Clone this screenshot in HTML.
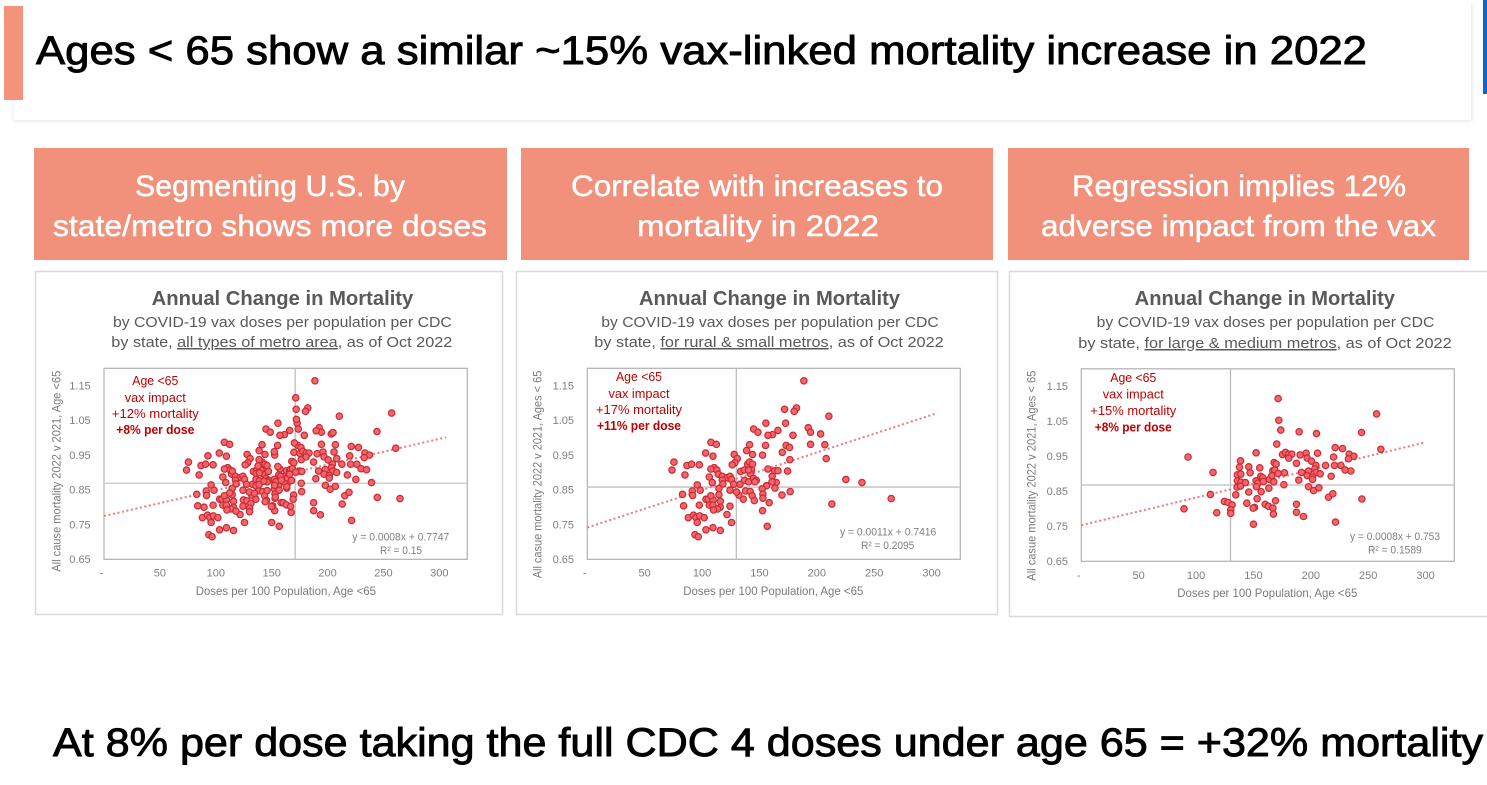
<!DOCTYPE html>
<html lang="en">
<head>
<meta charset="utf-8">
<title>Ages under 65 mortality slide</title>
<style>
html,body{margin:0;padding:0;background:#fff;width:1487px;height:785px;overflow:hidden}
svg{display:block;font-family:"Liberation Sans",sans-serif}
.banner{fill:#f1917b}
.banner-text{fill:#fff;font-size:30px;stroke:#fff;stroke-width:.45px}
.headline{fill:#000;font-size:40px;stroke:#000;stroke-width:.9px}
.panel{fill:#fff;stroke:#d9d9d9;stroke-width:1.5px}
.chart{filter:blur(.35px)}
.title{fill:#595959;font-size:20px;font-weight:bold}
.sub{fill:#595959;font-size:15px}
.axis-title{fill:#7a7a7a;font-size:12px}
.tick{fill:#7f7f7f;font-size:11px}
.note{fill:#c00000;font-size:12.5px}
.note-b{fill:#c00000;font-size:12.5px;font-weight:bold}
.eq{fill:#7f7f7f;font-size:11px}
</style>
</head>
<body>
<svg id="slide" width="1487" height="785" viewBox="0 0 1487 785" xmlns="http://www.w3.org/2000/svg">
  <defs>
    <filter id="soft" x="-2%" y="-10%" width="104%" height="120%"><feGaussianBlur stdDeviation="2"/></filter>
  </defs>
  <rect x="14" y="4" width="1458" height="117" fill="#e4e4e4" filter="url(#soft)"/>
  <rect x="14" y="0" width="1457" height="120" fill="#fff"/>
  <rect x="4" y="6" width="19" height="94" fill="#f4937b"/>
  <rect x="1483" y="0" width="4" height="94" fill="#0b66d0"/>
  <text class="headline" x="36" y="64" textLength="1331" lengthAdjust="spacingAndGlyphs">Ages &lt; 65 show a similar ~15% vax-linked mortality increase in 2022</text>

  <g>
    <rect class="banner" x="34" y="148" width="473" height="112"/>
    <text class="banner-text" x="135" y="196" textLength="270" lengthAdjust="spacingAndGlyphs">Segmenting U.S. by</text>
    <text class="banner-text" x="53" y="236" textLength="434" lengthAdjust="spacingAndGlyphs">state/metro shows more doses</text>
  </g>
  <g>
    <rect class="banner" x="521" y="148" width="472" height="112"/>
    <text class="banner-text" x="571" y="196" textLength="372" lengthAdjust="spacingAndGlyphs">Correlate with increases to</text>
    <text class="banner-text" x="637" y="236" textLength="242" lengthAdjust="spacingAndGlyphs">mortality in 2022</text>
  </g>
  <g>
    <rect class="banner" x="1008" y="148" width="461" height="112"/>
    <text class="banner-text" x="1072" y="196" textLength="334" lengthAdjust="spacingAndGlyphs">Regression implies 12%</text>
    <text class="banner-text" x="1041" y="236" textLength="395" lengthAdjust="spacingAndGlyphs">adverse impact from the vax</text>
  </g>

  <rect class="panel" x="35.5" y="271.5" width="467" height="343"/>
  <rect class="panel" x="516.5" y="271.5" width="481" height="343"/>
  <rect class="panel" x="1009.5" y="271.5" width="480" height="345"/>

  <g id="chart-all" class="chart">
    <text class="title" x="151.7" y="305" textLength="261.6" lengthAdjust="spacingAndGlyphs">Annual Change in Mortality</text>
    <text class="sub" x="113" y="327" textLength="338.7" lengthAdjust="spacingAndGlyphs">by COVID-19 vax doses per population per CDC</text>
    <text class="sub" x="111.3" y="347" textLength="341" lengthAdjust="spacingAndGlyphs">by state, <tspan text-decoration="underline">all types of metro area</tspan>, as of Oct 2022</text>
    <text class="axis-title" x="195.7" y="595" textLength="180.3" lengthAdjust="spacingAndGlyphs">Doses per 100 Population, Age &lt;65</text>
    <text class="axis-title" transform="translate(60.5,571.7) rotate(-90)" textLength="201" lengthAdjust="spacingAndGlyphs">All cause mortality 2022 v 2021, Age &lt;65</text>
    <text class="note" x="155.3" y="385" text-anchor="middle" textLength="46" lengthAdjust="spacingAndGlyphs">Age &lt;65</text>
    <text class="note" x="155.3" y="402" text-anchor="middle" textLength="61" lengthAdjust="spacingAndGlyphs">vax impact</text>
    <text class="note" x="155.3" y="418" text-anchor="middle" textLength="87" lengthAdjust="spacingAndGlyphs">+12% mortality</text>
    <text class="note-b" x="155.3" y="434" text-anchor="middle" textLength="78" lengthAdjust="spacingAndGlyphs">+8% per dose</text>
    <text class="eq" x="352.3" y="540.7" textLength="97" lengthAdjust="spacingAndGlyphs">y = 0.0008x + 0.7747</text>
    <text class="eq" x="380" y="554" textLength="42" lengthAdjust="spacingAndGlyphs">R² = 0.15</text>
  </g>

  <g id="chart-rural" class="chart">
    <text class="title" x="639" y="305" textLength="261" lengthAdjust="spacingAndGlyphs">Annual Change in Mortality</text>
    <text class="sub" x="601.3" y="327" textLength="337.4" lengthAdjust="spacingAndGlyphs">by COVID-19 vax doses per population per CDC</text>
    <text class="sub" x="594.3" y="347" textLength="349.4" lengthAdjust="spacingAndGlyphs">by state, <tspan text-decoration="underline">for rural &amp; small metros</tspan>, as of Oct 2022</text>
    <text class="axis-title" x="683.3" y="595" textLength="180" lengthAdjust="spacingAndGlyphs">Doses per 100 Population, Age &lt;65</text>
    <text class="axis-title" transform="translate(541.3,578.3) rotate(-90)" textLength="207.6" lengthAdjust="spacingAndGlyphs">All casue mortality 2022 v 2021, Ages &lt; 65</text>
    <text class="note" x="639" y="381" text-anchor="middle" textLength="46" lengthAdjust="spacingAndGlyphs">Age &lt;65</text>
    <text class="note" x="639" y="398" text-anchor="middle" textLength="61" lengthAdjust="spacingAndGlyphs">vax impact</text>
    <text class="note" x="639" y="414" text-anchor="middle" textLength="86" lengthAdjust="spacingAndGlyphs">+17% mortality</text>
    <text class="note-b" x="639" y="430" text-anchor="middle" textLength="84" lengthAdjust="spacingAndGlyphs">+11% per dose</text>
    <text class="eq" x="840" y="535.7" textLength="96.3" lengthAdjust="spacingAndGlyphs">y = 0.0011x + 0.7416</text>
    <text class="eq" x="861" y="549" textLength="53.3" lengthAdjust="spacingAndGlyphs">R² = 0.2095</text>
  </g>

  <g id="chart-metro" class="chart">
    <text class="title" x="1134.7" y="305" textLength="260.3" lengthAdjust="spacingAndGlyphs">Annual Change in Mortality</text>
    <text class="sub" x="1096.7" y="327" textLength="337.6" lengthAdjust="spacingAndGlyphs">by COVID-19 vax doses per population per CDC</text>
    <text class="sub" x="1078.3" y="348" textLength="373.4" lengthAdjust="spacingAndGlyphs">by state, <tspan text-decoration="underline">for large &amp; medium metros</tspan>, as of Oct 2022</text>
    <text class="axis-title" x="1177.3" y="597" textLength="180" lengthAdjust="spacingAndGlyphs">Doses per 100 Population, Age &lt;65</text>
    <text class="axis-title" transform="translate(1035.3,580.7) rotate(-90)" textLength="210" lengthAdjust="spacingAndGlyphs">All casue mortality 2022 v 2021, Ages &lt; 65</text>
    <text class="note" x="1133.3" y="382" text-anchor="middle" textLength="46" lengthAdjust="spacingAndGlyphs">Age &lt;65</text>
    <text class="note" x="1133.3" y="398.5" text-anchor="middle" textLength="61" lengthAdjust="spacingAndGlyphs">vax impact</text>
    <text class="note" x="1133.3" y="415" text-anchor="middle" textLength="86" lengthAdjust="spacingAndGlyphs">+15% mortality</text>
    <text class="note-b" x="1133.3" y="431.5" text-anchor="middle" textLength="77" lengthAdjust="spacingAndGlyphs">+8% per dose</text>
    <text class="eq" x="1350" y="540" textLength="90" lengthAdjust="spacingAndGlyphs">y = 0.0008x + 0.753</text>
    <text class="eq" x="1368" y="553.3" textLength="53.7" lengthAdjust="spacingAndGlyphs">R² = 0.1589</text>
  </g>

  <text class="headline" x="53" y="756" textLength="1430" lengthAdjust="spacingAndGlyphs">At 8% per dose taking the full CDC 4 doses under age 65 = +32% mortality</text>
</svg>

<script>
const xTicks = [50, 100, 150, 200, 250, 300];
const xTickLabels = ["50", "100", "150", "200", "250", "300"];
const yTicks = [0.65, 0.75, 0.85, 0.95, 1.05, 1.15];
const yTickLabels = ["0.65", "0.75", "0.85", "0.95", "1.05", "1.15"];

const ruralDoses = [188.7,182.3,180.3,171.9,210.5,155.6,172.8,192.5,194.5,144.9,148.7,166.1,161.4,157.4,179.2,203.3,194.5,207,173.3,176.2,155.3,141.4,138.8,169.9,144,152.7,208.2,176.5,107.7,112.4,103.1,109.5,128,130.7,128.6,126.3,75.5,73.8,86.8,90.9,97.6,85.1,110.6,107.7,112.9,114.1,106.3,108.9,117.6,121.7,124.3,125.7,117.6,118.2,127.5,133,133.6,136.8,139.7,141.4,144,143.1,142,140.5,137,140.5,144.9,147.2,146,157.4,163.2,166.1,174.5,161.1,164.6,161,163.5,156.2,152.4,153,153,158.5,152.7,156.8,169.6,176.8,213.1,225.3,239.3,264.8,137.9,142,143.7,145.5,135.9,132.1,130,124.3,114.7,95.8,98.4,91.5,91.8,83,83.9,103.4,105.4,109.5,107.7,114.7,115.9,97.6,106.3,109.5,115.9,113.5,110,124.3,121.7,125.7,88,92.6,94.7,97.9,101.9,95.8,103.4,109.5,115.9,93.8,96.7];
const ruralMortality = [1.164,1.086,1.076,1.082,1.062,1.042,1.042,1.029,1.016,1.025,1.016,1.021,1.009,1.007,1.007,1.011,0.981,0.98,0.978,0.972,0.978,0.98,0.963,0.958,0.952,0.95,0.94,0.937,0.987,0.981,0.956,0.947,0.952,0.94,0.928,0.922,0.93,0.907,0.92,0.924,0.922,0.893,0.914,0.91,0.907,0.895,0.887,0.871,0.889,0.885,0.889,0.88,0.878,0.867,0.866,0.866,0.903,0.907,0.924,0.93,0.924,0.907,0.897,0.907,0.877,0.873,0.883,0.877,0.873,0.91,0.905,0.905,0.904,0.889,0.871,0.873,0.855,0.862,0.853,0.838,0.826,0.813,0.79,0.745,0.835,0.845,0.809,0.88,0.871,0.825,0.847,0.845,0.833,0.819,0.823,0.835,0.844,0.849,0.854,0.864,0.849,0.847,0.834,0.837,0.804,0.823,0.823,0.821,0.833,0.836,0.817,0.806,0.806,0.806,0.8,0.795,0.792,0.803,0.779,0.756,0.77,0.777,0.77,0.775,0.77,0.756,0.735,0.741,0.733,0.721,0.715];

const metroDoses = [171.5,172.1,173.8,189.8,204.9,257.3,244.2,170.3,221.2,227.6,261,152.3,93,175.3,177.9,180.8,183.4,180.8,190.7,195.9,196.8,205.8,219.8,233.4,237.5,232.8,138.7,137.8,145.9,155.5,168,169.8,187.5,200.6,204.4,212.8,220.6,226.2,229.9,234.9,114.8,136,139,147.1,166.9,168.6,171.5,177,191.9,198,196.8,203.5,204.7,208.1,201.5,201.5,217.7,189.5,156.4,158.1,152.3,164,166,167.7,176.5,136,139,143,135.8,138.7,153.8,158.7,152.6,163.4,156.7,145.9,134.6,112.5,198,202.4,207,215.4,219.2,244.5,153.2,169.2,124.7,127.9,131.4,144.2,160.2,163.1,166.9,150.9,149.7,187.5,187.5,193.6,167.4,89.5,118,130.2,130.2,150,221.5];
const metroMortality = [1.115,1.053,1.025,1.02,1.015,1.071,1.018,0.985,0.975,0.972,0.97,0.96,0.948,0.955,0.961,0.956,0.956,0.945,0.954,0.959,0.945,0.959,0.948,0.956,0.95,0.943,0.937,0.919,0.92,0.917,0.932,0.928,0.93,0.936,0.924,0.924,0.924,0.924,0.911,0.908,0.904,0.897,0.899,0.903,0.909,0.911,0.901,0.903,0.904,0.908,0.895,0.914,0.904,0.9,0.891,0.884,0.893,0.882,0.893,0.889,0.88,0.884,0.895,0.877,0.869,0.88,0.876,0.875,0.862,0.865,0.873,0.878,0.863,0.859,0.849,0.848,0.84,0.841,0.863,0.852,0.86,0.833,0.843,0.828,0.829,0.823,0.821,0.818,0.811,0.816,0.813,0.807,0.802,0.804,0.802,0.813,0.79,0.778,0.785,0.8,0.789,0.797,0.787,0.756,0.762];

const allDoses = ruralDoses.concat(metroDoses);
const allMortality = ruralMortality.concat(metroMortality);

const SVG_NS = "http://www.w3.org/2000/svg";
const X_MAX = 325, Y_MIN = 0.65, Y_MAX = 1.2;

function drawChart(id, doses, mortality, refDose, refMortality, slope, intercept, trendEnd, box) {
  const root = document.getElementById(id);
  const sx = v => box.left + v / X_MAX * (box.right - box.left);
  const sy = v => box.bottom - (v - Y_MIN) / (Y_MAX - Y_MIN) * (box.bottom - box.top);
  const make = (tag, attrs) => {
    const el = document.createElementNS(SVG_NS, tag);
    Object.keys(attrs).forEach(k => el.setAttribute(k, attrs[k]));
    root.appendChild(el);
    return el;
  };

  const frame = make("rect", {x: box.left, y: box.top, width: box.right - box.left, height: box.bottom - box.top, fill: "none", stroke: "#b0b0b0", "stroke-width": 1.2});
  
  

  const refV = make("line", {x1: sx(refDose), x2: sx(refDose), y1: box.top, y2: box.bottom, stroke: "#b8b8b8", "stroke-width": 1.2});
  
  

  const refH = make("line", {x1: box.left, x2: box.right, y1: sy(refMortality), y2: sy(refMortality), stroke: "#c8c8c8", "stroke-width": box.refWidth});
  
  

  xTicks.forEach((t, i) => {
    const label = make("text", {x: sx(t), y: box.tickY, "text-anchor": "middle", class: "tick"});
    label.textContent = xTickLabels[i];
    
    
  });
  const zero = make("text", {x: sx(0) - 2.5, y: box.tickY, "text-anchor": "middle", class: "tick"});
  zero.textContent = "-";
  
  

  yTicks.forEach((t, i) => {
    const label = make("text", {x: box.yTickX, y: sy(t) + 3.8, "text-anchor": "end", class: "tick"});
    label.textContent = yTickLabels[i];
    
    
  });

  const trend = make("line", {x1: sx(0), y1: sy(intercept), x2: sx(trendEnd), y2: sy(intercept + slope * trendEnd), stroke: "#f2777b", "stroke-width": 2, "stroke-dasharray": "2 2.6"});
  
  

  doses.forEach((d, i) => {
    const dot = make("circle", {cx: sx(d), cy: sy(mortality[i]), r: 3.2, fill: "#f0666c", stroke: "#cc2a32", "stroke-width": 1.2});
    
    
  });
}

drawChart("chart-all", allDoses, allMortality, 171, 0.869, 0.00074, 0.7747, 306,
  {left: 104, right: 467.3, top: 368.3, bottom: 559.3, tickY: 576.7, yTickX: 90.7, refWidth: 1.2});
drawChart("chart-rural", ruralDoses, ruralMortality, 129.8, 0.858, 0.00108, 0.7416, 303,
  {left: 587.3, right: 960.3, top: 368.3, bottom: 559.3, tickY: 576.7, yTickX: 574, refWidth: 1.6});
drawChart("chart-metro", metroDoses, metroMortality, 130, 0.868, 0.00079, 0.753, 299,
  {left: 1081.3, right: 1454.3, top: 368.8, bottom: 561.3, tickY: 579, yTickX: 1068, refWidth: 1.6});
</script>
</body>
</html>
